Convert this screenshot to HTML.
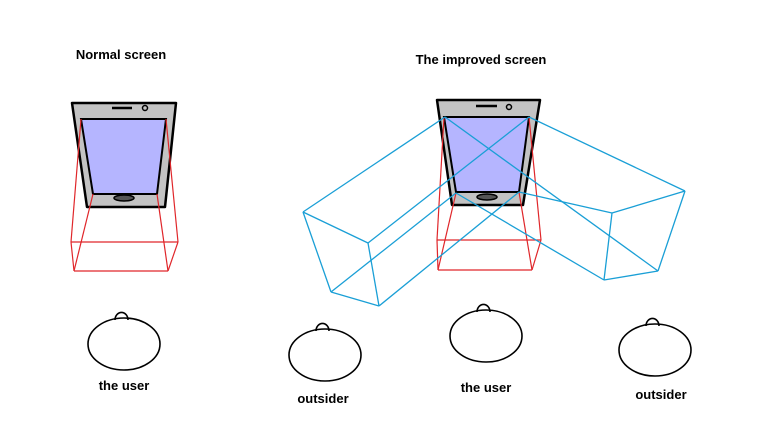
<!DOCTYPE html>
<html><head><style>body{margin:0;background:#fff}svg{display:block}text{font-family:"Liberation Sans",Arial,sans-serif;font-weight:bold;font-size:13px;text-anchor:middle;fill:#000}</style></head>
<body>
<svg width="759" height="441" viewBox="0 0 759 441">
<text x="121" y="59">Normal screen</text>
<text x="481" y="64">The improved screen</text>
<!-- left phone -->
<polygon points="72,103 176,103 165,207 87,207" fill="#c3c3c3" stroke="#000" stroke-width="2.5" stroke-linejoin="round"/>
<polygon points="81,119 166,119 157,194 93,194" fill="#b5b5ff" stroke="#000" stroke-width="2"/>
<line x1="112" y1="108" x2="132" y2="108" stroke="#000" stroke-width="2.5"/>
<circle cx="145" cy="108" r="2.5" fill="none" stroke="#000" stroke-width="1.5"/>
<ellipse cx="124" cy="198" rx="10" ry="3" fill="#555" stroke="#000" stroke-width="1.5"/>
<g stroke="#e0262a" stroke-width="1.2" fill="none">
<line x1="81" y1="119" x2="71" y2="242"/><line x1="166" y1="119" x2="178" y2="242"/>
<line x1="71" y1="242" x2="178" y2="242"/><line x1="74" y1="271" x2="168" y2="271"/>
<line x1="93" y1="194" x2="74" y2="271"/><line x1="157" y1="194" x2="168" y2="271"/>
<line x1="71" y1="242" x2="74" y2="271"/><line x1="178" y1="242" x2="168" y2="271"/>
</g>
<!-- right phone -->
<polygon points="437,100 540,100 523,205 452,205" fill="#c3c3c3" stroke="#000" stroke-width="2.5" stroke-linejoin="round"/>
<polygon points="444,117 529,117 519,192 456,192" fill="#b5b5ff" stroke="#000" stroke-width="2"/>
<line x1="476" y1="106" x2="497" y2="106" stroke="#000" stroke-width="2.5"/>
<circle cx="509" cy="107" r="2.5" fill="none" stroke="#000" stroke-width="1.5"/>
<ellipse cx="487" cy="197" rx="10" ry="3" fill="#555" stroke="#000" stroke-width="1.5"/>
<g stroke="#e0262a" stroke-width="1.2" fill="none">
<line x1="444" y1="117" x2="437" y2="240"/><line x1="529" y1="117" x2="541" y2="240"/>
<line x1="437" y1="240" x2="541" y2="240"/><line x1="438" y1="270" x2="532" y2="270"/>
<line x1="456" y1="193" x2="438" y2="270"/><line x1="519" y1="192" x2="532" y2="270"/>
<line x1="437" y1="240" x2="438" y2="270"/><line x1="541" y1="240" x2="532" y2="270"/>
</g>
<g stroke="#1a9fd6" stroke-width="1.3" fill="none">
<line x1="445" y1="117" x2="303" y2="212"/><line x1="303" y1="212" x2="368" y2="243"/>
<line x1="303" y1="212" x2="331" y2="292"/><line x1="331" y1="292" x2="379" y2="306"/>
<line x1="379" y1="306" x2="368" y2="243"/>
<line x1="529" y1="117" x2="368" y2="243"/><line x1="456" y1="193" x2="331" y2="292"/>
<line x1="519" y1="192" x2="379" y2="306"/>
<line x1="529" y1="117" x2="685" y2="191"/><line x1="685" y1="191" x2="612" y2="213"/>
<line x1="612" y1="213" x2="604" y2="280"/><line x1="604" y1="280" x2="658" y2="271"/>
<line x1="658" y1="271" x2="685" y2="191"/><line x1="445" y1="117" x2="658" y2="271"/>
<line x1="519" y1="192" x2="612" y2="213"/><line x1="456" y1="193" x2="604" y2="280"/>
</g>
<!-- heads -->
<g stroke="#000" stroke-width="1.6" fill="none">
<ellipse cx="124" cy="344" rx="36" ry="26"/><path d="M115,320 A6,7 0 0 1 128,320"/>
<ellipse cx="325" cy="355" rx="36" ry="26"/><path d="M316,331 A6,7 0 0 1 329,331"/>
<ellipse cx="486" cy="336" rx="36" ry="26"/><path d="M477,312 A6,7 0 0 1 490,312"/>
<ellipse cx="655" cy="350" rx="36" ry="26"/><path d="M646,326 A6,7 0 0 1 659,326"/>
</g>
<text x="124" y="390">the user</text>
<text x="323" y="403">outsider</text>
<text x="486" y="392">the user</text>
<text x="661" y="399">outsider</text>
</svg>
</body></html>
